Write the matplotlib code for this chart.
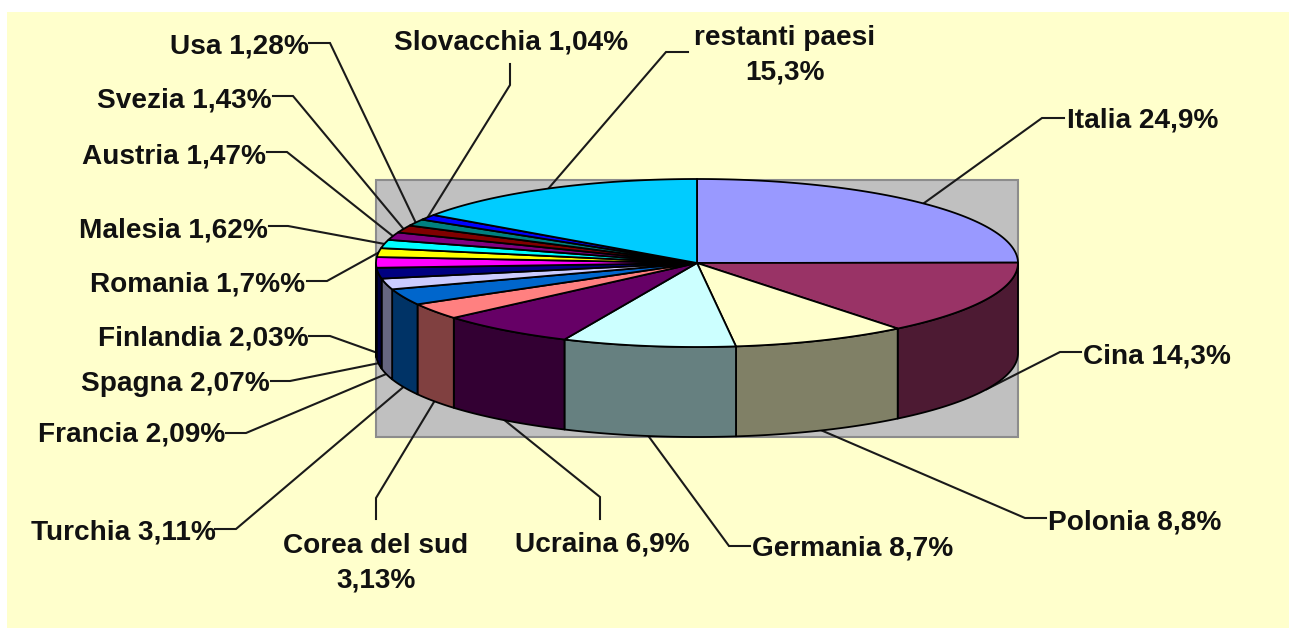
import numpy as np
import matplotlib
matplotlib.use('Agg')
import matplotlib.pyplot as plt
from matplotlib.patches import Polygon, Rectangle

plt.rcParams['font.family'] = ['Liberation Sans', 'DejaVu Sans']

# dati
paesi = ['Italia 24,9%', 'Cina 14,3%', 'Polonia 8,8%', 'Germania 8,7%', 'Ucraina 6,9%',
         'Corea del sud\n3,13%', 'Turchia 3,11%', 'Francia 2,09%', 'Spagna 2,07%',
         'Finlandia 2,03%', 'Romania 1,7%%', 'Malesia 1,62%', 'Austria 1,47%',
         'Svezia 1,43%', 'Usa 1,28%', 'Slovacchia 1,04%', 'restanti paesi\n15,3%']
valori = [24.9, 14.3, 8.8, 8.7, 6.9, 3.13, 3.11, 2.09, 2.07, 2.03, 1.7, 1.62, 1.47,
          1.43, 1.28, 1.04, 15.3]
colori = ['#9999FF', '#993366', '#FFFFCC', '#CCFFFF', '#660066', '#FF8080', '#0066CC',
          '#CCCCFF', '#000080', '#FF00FF', '#FFFF00', '#00FFFF', '#800080', '#800000',
          '#008080', '#0000FF', '#00CCFF']

# posizione delle etichette: (x, y, ha) e punti intermedi della linea guida
pos_testo = [(1067, 121, 'left'), (1083, 356, 'left'), (1048, 523, 'left'),
             (752, 549, 'left'), (602, 545, 'center'), (376, 563, 'center'),
             (216, 532, 'right'), (225, 435, 'right'), (270, 384, 'right'),
             (309, 339, 'right'), (305, 284, 'right'), (268, 230, 'right'),
             (266, 156, 'right'), (272, 100, 'right'), (309, 46, 'right'),
             (628, 43, 'right'), (785, 55, 'center')]
gomiti = [[(1042, 118), (1064, 118)], [(1060, 352), (1081, 352)], [(1025, 518), (1046, 518)],
          [(729, 546), (750, 546)], [(600, 497), (600, 519)], [(376, 498), (376, 519)],
          [(236, 529), (215, 529)], [(246, 433), (226, 433)], [(290, 381), (271, 381)],
          [(330, 336), (309, 336)], [(327, 281), (307, 281)], [(288, 226), (269, 226)],
          [(287, 152), (267, 152)], [(293, 96), (273, 96)], [(330, 43), (309, 43)],
          [(510, 85), (510, 64)], [(666, 52), (688, 52)]]

cx, cy = 697, 263
rx, ry = 321, 84
spessore = 90


def bordo(ang, dy=0):
    # angolo in gradi, in senso orario dalle 12
    a = np.radians(ang)
    return np.column_stack([cx + rx * np.sin(a), cy - ry * np.cos(a) + dy])


def scuro(colore):
    r, g, b = matplotlib.colors.to_rgb(colore)
    return (r * 0.5, g * 0.5, b * 0.5)


fig = plt.figure(figsize=(12.89, 6.30), dpi=100, facecolor='white')
ax = fig.add_axes([0, 0, 1, 1])
ax.set_xlim(0, 1289)
ax.set_ylim(630, 0)
ax.axis('off')

ax.add_patch(Rectangle((7, 12), 1282, 616, fc='#FFFFCC', ec='none', zorder=0))
ax.add_patch(Rectangle((376, 180), 642, 257, fc='#C0C0C0', ec='#8C8C8C', lw=1.5, zorder=1))

quote = np.array(valori) / sum(valori) * 360
fine = np.cumsum(quote)
inizio = fine - quote

# linee guida, sotto la torta
for i in range(len(valori)):
    mezzo = (inizio[i] + fine[i]) / 2
    dy = spessore if 90 < mezzo < 272 else 0  # Finlandia sta ancora sulla parete
    p = bordo(mezzo, dy)[0]
    xs = [p[0]] + [g[0] for g in gomiti[i]]
    ys = [p[1]] + [g[1] for g in gomiti[i]]
    ax.plot(xs, ys, color='#1A1A1A', lw=1.5, zorder=2, solid_joinstyle='miter')
    x, y, ha = pos_testo[i]
    ax.text(x, y, paesi[i], ha=ha, va='center', fontsize=20.2, fontweight='bold',
            color='#111111', linespacing=1.42, zorder=6)

# pareti laterali, solo la parte davanti
for i in range(len(valori)):
    a, b = max(inizio[i], 90), min(fine[i], 270)
    if b <= a:
        continue
    t = np.linspace(a, b, 60)
    pts = np.vstack([bordo(t), bordo(t[::-1], spessore)])
    ax.add_patch(Polygon(pts, fc=scuro(colori[i]), ec='black', lw=1.3, zorder=3,
                         joinstyle='round'))

# spicchi sopra
for i in range(len(valori)):
    t = np.linspace(inizio[i], fine[i], 80)
    pts = np.vstack([[(cx, cy)], bordo(t)])
    ax.add_patch(Polygon(pts, fc=colori[i], ec='black', lw=1.3, zorder=4,
                         joinstyle='round'))

fig.savefig('out.png', dpi=100, facecolor='white')
